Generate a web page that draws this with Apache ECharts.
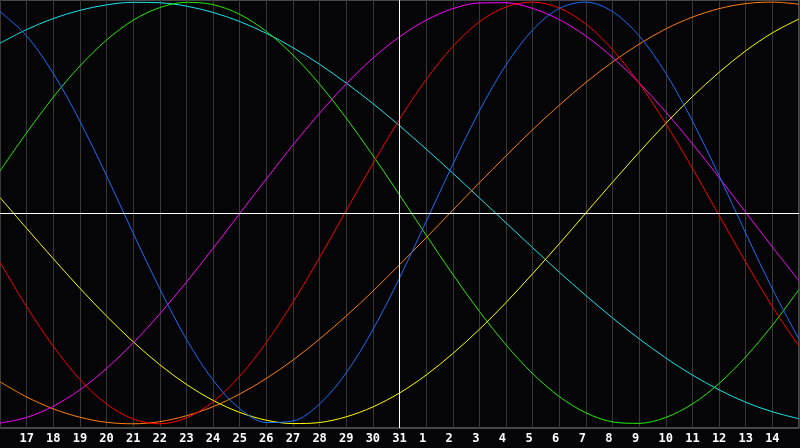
<!DOCTYPE html>
<html>
<head>
<meta charset="utf-8">
<script src="https://cdn.jsdelivr.net/npm/echarts@6/dist/echarts.min.js"></script>
<style>html,body{margin:0;padding:0;background:#050507;}#c{width:800px;height:448px;}</style>
</head>
<body>
<div id="c"></div>
<script>
const days = ['16','17','18','19','20','21','22','23','24','25','26','27','28','29','30','31',
  '1','2','3','4','5','6','7','8','9','10','11','12','13','14','15'];

const blueSeries = [0.955,0.840,0.662,0.436,0.177,-0.096,-0.360,-0.599,-0.793,-0.928,-0.994,-0.987,-0.906,-0.758,-0.554,-0.309,-0.041,0.230,0.484,0.702,0.868,0.970,1.000,0.955,0.840,0.662,0.436,0.177,-0.096,-0.360,-0.599];
const redSeries = [-0.233,-0.444,-0.632,-0.789,-0.906,-0.977,-1.000,-0.972,-0.896,-0.775,-0.615,-0.424,-0.212,0.011,0.233,0.444,0.632,0.789,0.906,0.977,1.000,0.972,0.896,0.775,0.615,0.424,0.212,-0.011,-0.233,-0.444,-0.632];
const greenSeries = [0.199,0.380,0.549,0.697,0.820,0.914,0.974,0.999,0.988,0.942,0.861,0.749,0.611,0.450,0.273,0.086,-0.105,-0.291,-0.467,-0.626,-0.762,-0.871,-0.948,-0.991,-0.998,-0.970,-0.906,-0.809,-0.683,-0.533,-0.363];
const magentaSeries = [-0.997,-0.970,-0.917,-0.839,-0.738,-0.617,-0.479,-0.328,-0.168,-0.003,0.161,0.322,0.473,0.612,0.734,0.835,0.914,0.969,0.996,0.997,0.970,0.917,0.839,0.738,0.617,0.479,0.328,0.168,0.003,-0.161,-0.322];
const yellowSeries = [0.073,-0.073,-0.217,-0.357,-0.489,-0.611,-0.720,-0.813,-0.889,-0.946,-0.983,-0.999,-0.994,-0.967,-0.920,-0.854,-0.769,-0.667,-0.552,-0.425,-0.288,-0.146,0.000,0.146,0.288,0.425,0.552,0.667,0.769,0.854,0.920];
const orangeSeries = [-0.801,-0.873,-0.929,-0.969,-0.993,-1.000,-0.990,-0.962,-0.919,-0.859,-0.785,-0.698,-0.598,-0.489,-0.371,-0.246,-0.118,0.013,0.143,0.271,0.395,0.511,0.619,0.716,0.801,0.873,0.929,0.969,0.993,1.000,0.990];
const cyanSeries = [0.805,0.870,0.922,0.961,0.987,0.999,0.997,0.981,0.951,0.908,0.852,0.784,0.705,0.616,0.519,0.414,0.303,0.189,0.071,-0.047,-0.165,-0.281,-0.392,-0.498,-0.597,-0.688,-0.769,-0.839,-0.898,-0.943,-0.976];

const centerDay = '31';

const curves = [
  {data: cyanSeries, color: '#19e6e6'},
  {data: greenSeries, color: '#22ee00'},
  {data: orangeSeries, color: '#ff7f0a'},
  {data: yellowSeries, color: '#ffff00'},
  {data: magentaSeries, color: '#ff00ff'},
  {data: redSeries, color: '#ff0000'},
  {data: blueSeries, color: '#1a6cff'}
];

const chart = echarts.init(document.getElementById('c'), null, {renderer: 'canvas'});
const series = curves.map(c => ({
  type: 'line',
  data: c.data,
  smooth: 0.33,
  symbol: 'none',
  lineStyle: {width: 1, color: c.color},
  silent: true,
  z: 3
}));
series.push({
  type: 'line',
  data: [],
  symbol: 'none',
  silent: true,
  z: 2,
  markLine: {
    silent: true,
    symbol: 'none',
    animation: false,
    label: {show: false},
    lineStyle: {color: '#ffffff', width: 1, type: 'solid'},
    data: [{yAxis: 0}, {xAxis: centerDay}]
  }
});

chart.setOption({
  backgroundColor: '#050507',
  animation: false,
  grid: {left: 0, top: 0, width: 799, height: 428, show: true, borderColor: '#8c8c8c', borderWidth: 1, backgroundColor: 'transparent'},
  xAxis: {
    type: 'category',
    data: days,
    boundaryGap: false,
    axisLine: {lineStyle: {color: '#8c8c8c', width: 1}},
    axisTick: {show: false},
    splitLine: {show: true, interval: 0, lineStyle: {color: '#383838', width: 1}},
    axisLabel: {
      interval: (i) => i > 0 && i < days.length - 1,
      color: '#ffffff',
      fontFamily: 'DejaVu Sans Mono',
      fontWeight: 'bold',
      fontSize: 12,
      margin: 5,
      formatter: (v) => v.length === 1 ? v + ' ' : v
    }
  },
  yAxis: {
    type: 'value',
    min: -1.02,
    max: 1.01,
    show: false,
    splitLine: {show: false}
  },
  series: series
});
</script>
</body>
</html>
